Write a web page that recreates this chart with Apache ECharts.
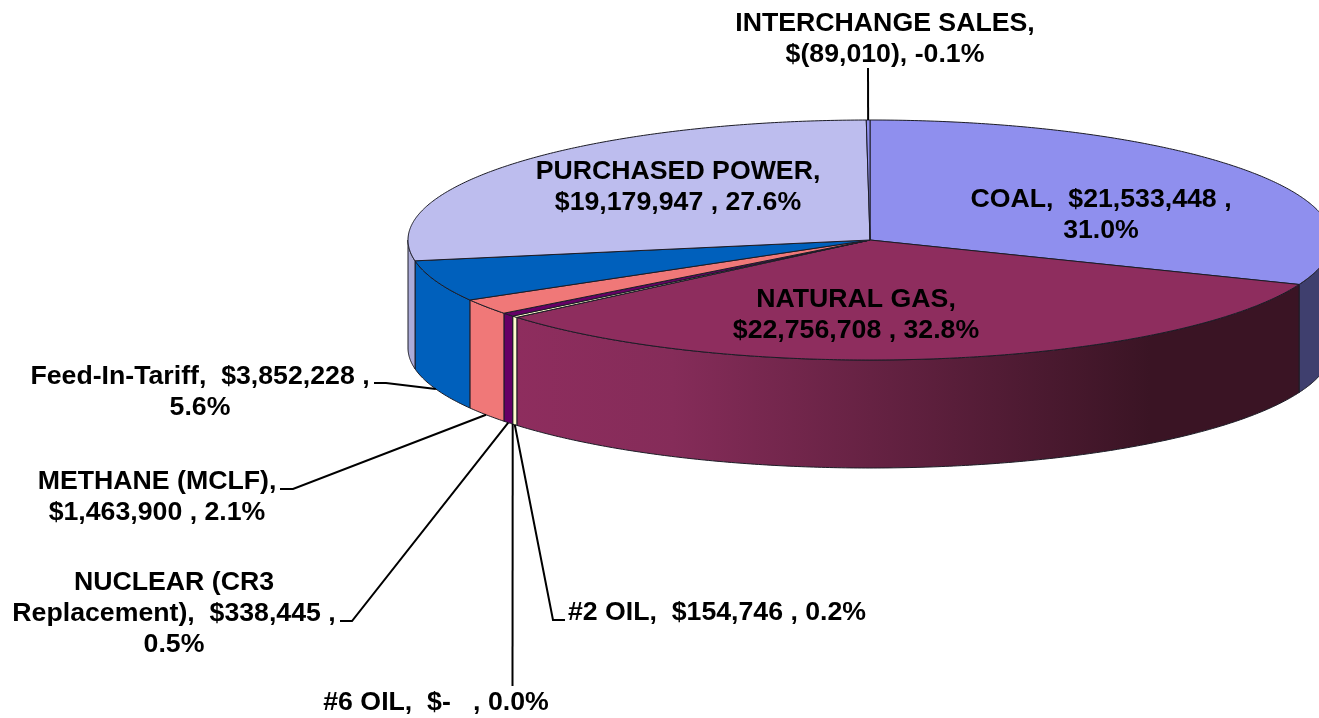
<!DOCTYPE html>
<html>
<head>
<meta charset="utf-8">
<title>Fuel cost pie</title>
<style>
html, body { margin: 0; padding: 0; background: #fff; }
#main { width: 1319px; height: 718px; }
</style>
<script src="https://cdn.jsdelivr.net/npm/echarts@6/dist/echarts.min.js"></script>
</head>
<body>
<div id="main"></div>
<script>
// chart data, clockwise from 12 o'clock
var categories = ['COAL', 'NATURAL GAS', '#2 OIL', '#6 OIL', 'NUCLEAR (CR3 Replacement)', 'METHANE (MCLF)', 'Feed-In-Tariff', 'PURCHASED POWER', 'INTERCHANGE SALES'];
var values = [21533448, 22756708, 154746, 0, 338445, 1463900, 3852228, 19179947, -89010];
var labelTexts = [
    'COAL,  $21,533,448 ,\n31.0%',
    'NATURAL GAS,\n$22,756,708 , 32.8%',
    '#2 OIL,  $154,746 , 0.2%',
    '#6 OIL,  $-   , 0.0%',
    'NUCLEAR (CR3\nReplacement),  $338,445 ,\n0.5%',
    'METHANE (MCLF),\n$1,463,900 , 2.1%',
    'Feed-In-Tariff,  $3,852,228 ,\n5.6%',
    'PURCHASED POWER,\n$19,179,947 , 27.6%',
    'INTERCHANGE SALES,\n$(89,010), -0.1%'
];

// styles and layout
var topColors = ['#8F8FEE', '#8E2D5E', '#FFFFCC', '#FFFFCC', '#660066', '#F07878', '#0060BC', '#BDBDEE', '#8F8FEE'];
var sideColors = [
    '#3F3F6E',
    { type: 'linear', x: 0, y: 0, x2: 1, y2: 0, colorStops: [
        { offset: 0, color: '#8E2D5E' },
        { offset: 0.2, color: '#852C59' },
        { offset: 0.81, color: '#3A1424' },
        { offset: 1, color: '#3A1424' }
    ] },
    '#FFFFCC', '#FFFFCC', '#660066', '#F07878', '#0060BC', '#ABABD8', '#8F8FEE'
];
var labelPos = [[1101, 215], [856, 315], [717, 613], [436, 703], [174, 614], [157, 497], [200, 392], [678, 187], [885, 39]];
// where the leader leaves the label: [start, elbow], null when the label sits on its slice
var leaders = [null, null, [[565, 620], [553, 620]], [[512.5, 686]], [[340, 621], [352, 621]], [[280, 489], [293, 489]], [[374, 383], [386, 383]], null, [[868, 68]]];

var CX = 870, CY = 240, RX = 462, RY = 120, DEPTH = 108;
var FONT = 'bold 26.7px "Liberation Sans", Arial, sans-serif';
var EDGE = '#1c1c26';

var total = values.reduce(function (s, v) { return s + Math.abs(v); }, 0);
var starts = [];
var run = 0;
values.forEach(function (v) {
    starts.push(run / total * 360);
    run += Math.abs(v);
});

function rad(deg) { return deg * Math.PI / 180; }
function rim(deg, dy) {
    return [CX + RX * Math.sin(rad(deg)), CY - RY * Math.cos(rad(deg)) + (dy || 0)];
}
function arc(a, b, dy) {
    var pts = [];
    var n = Math.max(2, Math.ceil((b - a) * 2));
    for (var i = 0; i <= n; i++) {
        pts.push(rim(a + (b - a) * i / n, dy));
    }
    return pts;
}
function range(i) {
    return [starts[i], starts[i] + Math.abs(values[i]) / total * 360];
}

function renderWall(params, api) {
    var i = params.dataIndex;
    if (!api.value(0)) return null;
    var r = range(i);
    var a = Math.max(r[0], 90), b = Math.min(r[1], 270);
    if (b <= a) return null;
    var pts = arc(a, b, 0).concat(arc(a, b, DEPTH).reverse());
    return {
        type: 'polygon',
        shape: { points: pts },
        style: { fill: sideColors[i], stroke: EDGE, lineWidth: 1 }
    };
}

function renderTop(params, api) {
    var i = params.dataIndex;
    if (!api.value(0)) return null;
    var r = range(i);
    return {
        type: 'polygon',
        shape: { points: [[CX, CY]].concat(arc(r[0], r[1], 0)) },
        style: { fill: topColors[i], stroke: EDGE, lineWidth: 1 }
    };
}

function renderLeader(params, api) {
    var i = params.dataIndex;
    if (!leaders[i]) return null;
    var r = range(i);
    var mid = (r[0] + r[1]) / 2;
    // front slices are met at the lower rim, back slices at the upper one
    var end = rim(mid, mid > 90 && mid < 270 ? DEPTH : 0);
    return {
        type: 'polyline',
        shape: { points: leaders[i].concat([end]) },
        style: { fill: null, stroke: '#000', lineWidth: 2 }
    };
}

function renderLabel(params) {
    var i = params.dataIndex;
    return {
        type: 'text',
        x: labelPos[i][0],
        y: labelPos[i][1],
        style: {
            text: labelTexts[i],
            font: FONT,
            lineHeight: 31,
            fill: '#000',
            align: 'center',
            verticalAlign: 'middle'
        }
    };
}

function layer(name, fn) {
    return {
        type: 'custom',
        name: name,
        coordinateSystem: 'none',
        silent: true,
        clip: false,
        renderItem: fn,
        encode: { value: 0 },
        data: values.map(function (v, i) { return { name: categories[i], value: [Math.abs(v)] }; })
    };
}

var chart = echarts.init(document.getElementById('main'));
var option = {
    backgroundColor: '#fff',
    animation: false,
    tooltip: { show: false },
    series: [
        layer('walls', renderWall),
        layer('tops', renderTop),
        layer('leaders', renderLeader),
        layer('labels', renderLabel)
    ]
};
chart.setOption(option);
window.addEventListener('resize', function () {
    chart.resize();
});
</script>
</body>
</html>
